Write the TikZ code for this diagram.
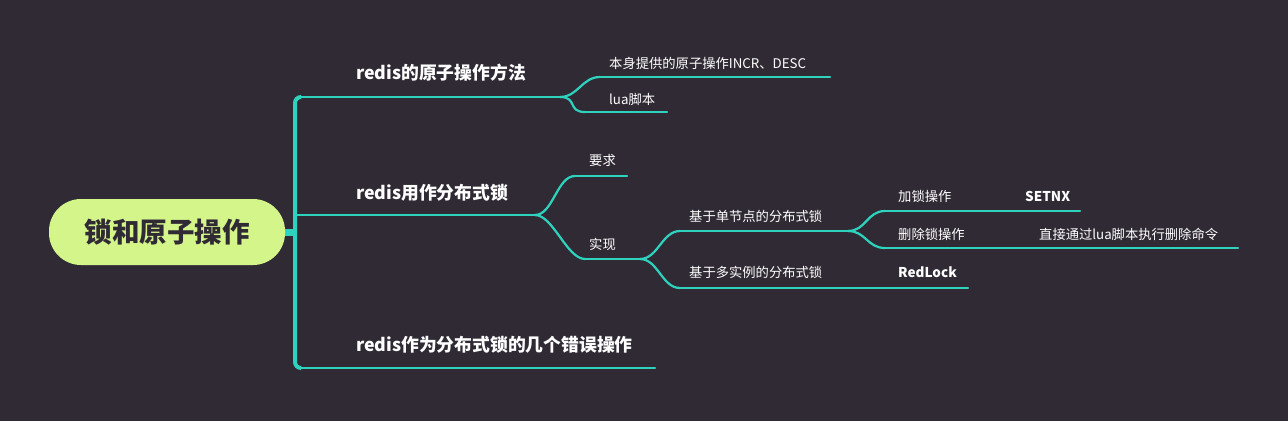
\documentclass[tikz,border=0pt]{standalone}
\usepackage{fontspec}
\setmainfont{Noto Sans CJK SC}
\definecolor{bgc}{HTML}{302A35}
\definecolor{teal}{HTML}{2ED3BD}
\definecolor{rootc}{HTML}{D4F58A}
\tikzset{
  lbl/.style={text=white,font=\fontsize{13.3}{15}\selectfont,anchor=base west,inner sep=0pt},
  mainlbl/.style={text=white,font=\fontsize{17.8}{20}\selectfont\bfseries,anchor=base west,inner sep=0pt},
  link/.style={teal,line width=2.2pt,line cap=round},
}
\newcommand{\bend}[2]{\draw[link] (#1) .. controls ($(#1)+(18,0)$) and ($(#2)+(-18,0)$) .. (#2);}
\usetikzlibrary{calc}
\begin{document}
\begin{tikzpicture}[x=1pt,y=-1pt]
\fill[bgc] (0,0) rectangle (1288,421);
\useasboundingbox (0,0) rectangle (1288,421);

% trunk
\draw[teal,line width=4pt,rounded corners=6pt] (300,97) -- (295,97) -- (295,368) -- (300,368);
\draw[teal,line width=7pt] (280,232) -- (295,232);
\draw[link] (295,215) -- (300,215);
\node[fill=rootc,rounded corners=32pt,minimum width=236pt,minimum height=66pt,
  font=\fontsize{27.5}{29}\selectfont\bfseries,text=bgc] (root) at (167,232) {锁和原子操作};

% level 1
\node[mainlbl] (a) at (356,79) {redis的原子操作方法};
\node[mainlbl] (b) at (356,199) {redis用作分布式锁};
\node[mainlbl] (c) at (356,351) {redis作为分布式锁的几个错误操作};
\coordinate (a0) at (300,97); \coordinate (a1) at (560,97);
\coordinate (b0) at (300,215); \coordinate (b1) at (535,215);
\coordinate (c0) at (300,368); \coordinate (c1) at (655,368);
\draw[link] (a0) -- (a1); \draw[link] (b0) -- (b1); \draw[link] (c0) -- (c1);

% redis的原子操作方法
\node[lbl] (a1t) at (609,68) {本身提供的原子操作INCR、DESC};
\node[lbl] (a2t) at (609,104) {lua脚本};
\coordinate (a10) at (600,77); \coordinate (a11) at (830,77);
\coordinate (a20) at (585,112); \coordinate (a21) at (667,112);
\bend{a1}{a10} \draw[link] (a10) -- (a11);
\bend{a1}{a20} \draw[link] (a20) -- (a21);

% redis用作分布式锁
\node[lbl] (b1t) at (589,165) {要求};
\node[lbl] (b2t) at (589,249) {实现};
\coordinate (b10) at (575,176); \coordinate (b11) at (627,176);
\coordinate (b20) at (585,259); \coordinate (b21) at (640,259);
\bend{b1}{b10} \draw[link] (b10) -- (b11);
\bend{b1}{b20} \draw[link] (b20) -- (b21);

% 实现
\node[lbl] (d1t) at (689,221) {基于单节点的分布式锁};
\node[lbl] (d2t) at (689,277) {基于多实例的分布式锁};
\coordinate (d10) at (680,231); \coordinate (d11) at (848,231);
\coordinate (d20) at (680,288); \coordinate (d21) at (848,288);
\bend{b21}{d10} \draw[link] (d10) -- (d11);
\bend{b21}{d20} \draw[link] (d20) -- (d21);

% 基于单节点的分布式锁
\node[lbl] (e1t) at (898,201) {加锁操作};
\node[lbl] (e2t) at (898,239) {删除锁操作};
\node[lbl,font=\fontsize{13.5}{15}\selectfont\bfseries] (f1t) at (1025,201) {SETNX};
\node[lbl] (f2t) at (1039,239) {直接通过lua脚本执行删除命令};
\coordinate (e10) at (885,211); \coordinate (e11) at (1080,211);
\coordinate (e20) at (885,248); \coordinate (e21) at (1238,248);
\bend{d11}{e10} \draw[link] (e10) -- (e11);
\bend{d11}{e20} \draw[link] (e20) -- (e21);

% 基于多实例的分布式锁
\node[lbl,font=\fontsize{13.5}{15}\selectfont\bfseries] (g1t) at (898,277) {RedLock};
\coordinate (g11) at (968,288);
\draw[link] (d21) -- (g11);
\end{tikzpicture}
\end{document}
